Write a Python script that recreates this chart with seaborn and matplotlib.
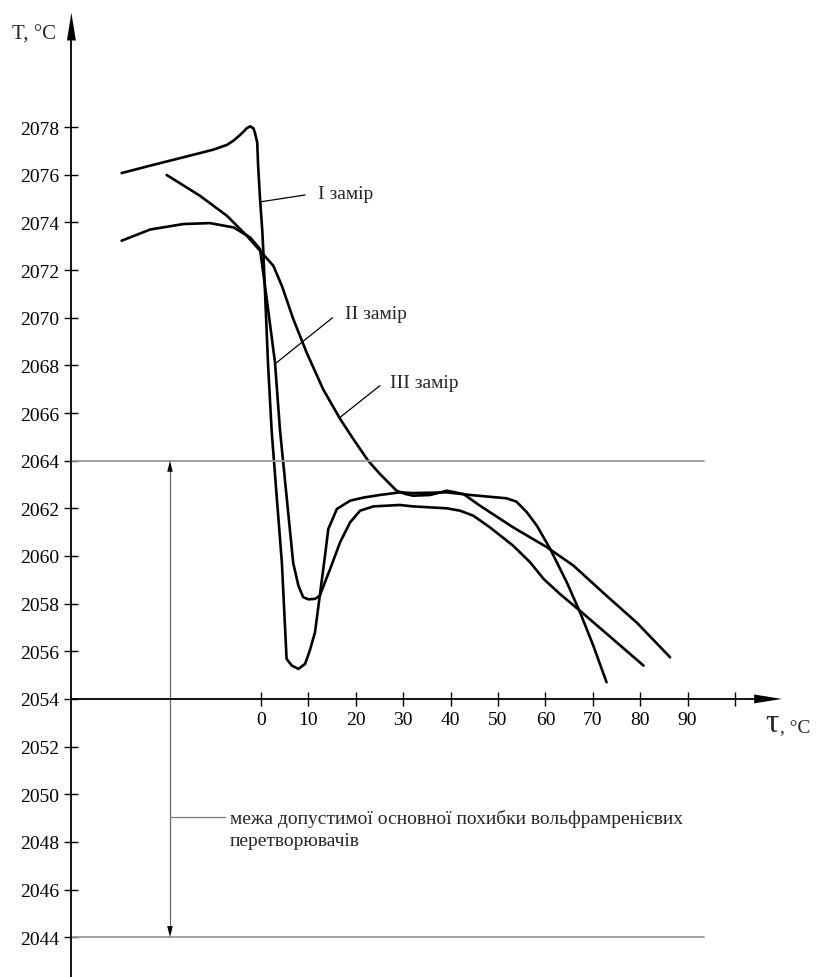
import matplotlib
matplotlib.use("Agg")
import matplotlib.pyplot as plt
import seaborn as sns
import pandas as pd

# ---- data ----
tau_I = [-29.4, -23.4, -16.4, -10.1, -7.2, -5.8, -4.4, -3.0, -2.3, -1.6, -1.3, -0.8, -0.6, -0.2, 0.3, 0.5,
         1.5, 2.25, 3.3, 4.4, 5.1, 5.4, 6.5, 7.9, 9.3, 10.3, 11.4, 12.4, 13.5, 14.2, 16.0, 18.8, 21.6,
         25.1, 29.3, 32.1, 39.2, 44.1, 51.8, 53.9, 56.1, 58.2, 61.0, 64.5, 67.3, 70.1, 72.9]
T_I = [2076.07, 2076.38, 2076.73, 2077.05, 2077.25, 2077.43, 2077.67, 2077.95, 2078.03, 2077.95, 2077.78,
       2077.36, 2076.38, 2074.98, 2073.58, 2072.74, 2068.0, 2065.25, 2062.53, 2059.74, 2056.9, 2055.68,
       2055.4, 2055.26, 2055.47, 2056.03, 2056.8, 2058.33, 2060.0, 2061.13, 2061.97, 2062.32, 2062.45,
       2062.56, 2062.67, 2062.64, 2062.67, 2062.56, 2062.42, 2062.28, 2061.83, 2061.27, 2060.3, 2058.9,
       2057.64, 2056.24, 2054.7]

tau_II = [-29.4, -23.4, -16.4, -10.8, -5.8, -2.3, -0.2, 1.2, 2.95, 4.0, 5.4, 6.8, 7.9, 8.9, 10.0, 11.4,
          12.4, 13.5, 14.6, 16.7, 18.8, 20.9, 23.7, 29.3, 32.1, 39.2, 42.0, 44.8, 48.3, 53.2, 56.8, 59.6,
          63.1, 67.3, 74.3, 80.7]
T_II = [2073.23, 2073.7, 2073.93, 2073.97, 2073.79, 2073.37, 2072.88, 2070.8, 2068.13, 2065.3, 2062.5,
        2059.7, 2058.75, 2058.27, 2058.18, 2058.2, 2058.33, 2058.9, 2059.46, 2060.58, 2061.41, 2061.9,
        2062.08, 2062.14, 2062.08, 2062.0, 2061.9, 2061.69, 2061.2, 2060.43, 2059.73, 2059.04, 2058.4,
        2057.7, 2056.5, 2055.4]

tau_III = [-19.9, -12.9, -7.2, -3.0, -0.2, 2.6, 4.4, 6.8, 9.6, 13.1, 16.7, 19.5, 22.6, 25.1, 28.6, 30.5,
           32.1, 35.7, 39.2, 42.7, 46.2, 53.2, 60.3, 65.9, 72.9, 79.3, 86.3]
T_III = [2075.99, 2075.12, 2074.28, 2073.44, 2072.81, 2072.18, 2071.34, 2069.95, 2068.55, 2067.0, 2065.75,
         2064.9, 2064.0, 2063.44, 2062.74, 2062.6, 2062.53, 2062.56, 2062.74, 2062.6, 2062.11, 2061.2,
         2060.37, 2059.6, 2058.33, 2057.2, 2055.75]

series_names = ["I замір", "II замір", "III замір"]
x_ticks = [0, 10, 20, 30, 40, 50, 60, 70, 80, 90, 100]
x_tick_labels = ["0", "10", "20", "30", "40", "50", "60", "70", "80", "90", ""]
y_ticks = list(range(2044, 2079, 2))
limit_upper = 2064
limit_lower = 2044
note_text = "межа допустимої основної похибки вольфрамренієвих\nперетворювачів"

df = pd.concat([
    pd.DataFrame({"tau": tau_I, "T": T_I, "series": series_names[0]}),
    pd.DataFrame({"tau": tau_II, "T": T_II, "series": series_names[1]}),
    pd.DataFrame({"tau": tau_III, "T": T_III, "series": series_names[2]}),
], ignore_index=True)

sns.set_theme(style="white")
plt.rcParams["font.family"] = ["Liberation Serif", "DejaVu Serif"]

fig = plt.figure(figsize=(8.16, 9.78), dpi=100)
ax = fig.add_axes([0, 0, 1, 1])
ax.set_facecolor("white")

X0 = -40.0
ax.set_xlim(-55.06, 117.09)
ax.set_ylim(2042.33, 2083.375)

sns.lineplot(data=df, x="tau", y="T", hue="series", palette=["black"] * 3, sort=False,
             estimator=None, legend=False, lw=1.9, ax=ax)
for l in ax.lines:
    l.set_solid_joinstyle("round")
    l.set_solid_capstyle("round")

# axes as spines
for s in ["top", "right"]:
    ax.spines[s].set_visible(False)
ax.spines["left"].set_position(("data", X0))
ax.spines["bottom"].set_position(("data", 2054))
ax.spines["left"].set_bounds(2042.33, 2082.0)
ax.spines["bottom"].set_bounds(X0, 108.5)
for s in ["left", "bottom"]:
    ax.spines[s].set_linewidth(1.3)
    ax.spines[s].set_color("black")

ax.set_xticks(x_ticks)
ax.set_xticklabels(x_tick_labels)
ax.set_yticks(y_ticks)
ax.set_yticklabels([str(v) for v in y_ticks])
ax.tick_params(axis="both", which="major", bottom=True, left=True, top=False, right=False,
               direction="inout", length=9.5, width=1.0, color="black",
               labelsize=14, pad=4.0, labelcolor="black")
ax.set_xlabel("")
ax.set_ylabel("")

# arrow heads
arr = dict(arrowstyle="-|>,head_length=2.0,head_width=0.32", color="black", lw=0, mutation_scale=10,
           shrinkA=0, shrinkB=0)
ax.annotate("", xy=(X0, 2082.8), xytext=(X0, 2080.0), arrowprops=arr)
ax.annotate("", xy=(109.9, 2054), xytext=(100.0, 2054), arrowprops=arr)

# tolerance limits
ax.plot([X0, 93.5], [limit_upper, limit_upper], color="#9a9a9a", lw=1.3)
ax.plot([X0, 93.5], [limit_lower, limit_lower], color="#9a9a9a", lw=1.3)
xa = -19.2
ax.plot([xa, xa], [limit_lower + 0.3, limit_upper - 0.3], color="#6a6a6a", lw=0.9)
small = dict(arrowstyle="-|>,head_length=0.8,head_width=0.2", color="black", lw=0, mutation_scale=10,
             shrinkA=0, shrinkB=0)
ax.annotate("", xy=(xa, limit_upper), xytext=(xa, limit_upper - 1.0), arrowprops=small)
ax.annotate("", xy=(xa, limit_lower), xytext=(xa, limit_lower + 1.0), arrowprops=small)
ax.plot([xa, -7.6], [2049.06, 2049.06], color="#7a7a7a", lw=0.9)
ax.text(-6.5, 2048.55, note_text, fontsize=14, ha="left", va="center", linespacing=1.4)

# series labels with leaders
ax.plot([0.15, 9.3], [2074.87, 2075.15], color="black", lw=0.9)
ax.text(12.0, 2075.2, series_names[0], fontsize=14, ha="left", va="center")
ax.plot([2.95, 15.1], [2068.06, 2070.0], color="black", lw=0.9)
ax.text(17.7, 2070.16, series_names[1], fontsize=14, ha="left", va="center")
ax.plot([16.7, 25.1], [2065.82, 2067.15], color="black", lw=0.9)
ax.text(27.2, 2067.3, series_names[2], fontsize=14, ha="left", va="center")

# axis titles
ax.text(-52.5, 2081.9, "T, °C", fontsize=15, ha="left", va="center")
ax.text(106.5, 2053.0, "τ", fontsize=24, ha="left", va="center")
ax.text(109.6, 2052.85, ", °C", fontsize=14, ha="left", va="center")

fig.savefig("out.png", dpi=100, facecolor="white")
